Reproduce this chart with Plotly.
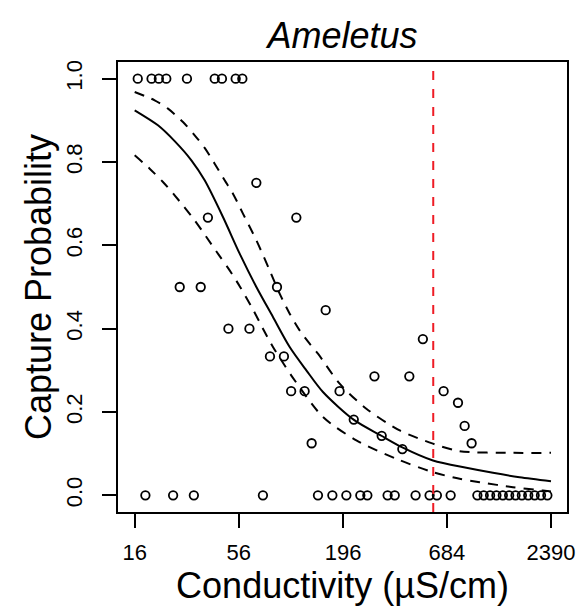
import plotly.graph_objects as go

# ---------------- data ----------------
conductivity_pts = [
    16.6, 19.6, 21.4, 23.4, 30.0, 41.9, 45.7, 53.9, 58.4,      # p = 1
    69.1,                                                       # 0.75
    38.6, 111.8,                                                # 2/3
    27.5, 35.4, 88.6,                                           # 0.5
    159.1,                                                      # 4/9
    49.4, 63.6,                                                 # 0.4
    512.0,                                                      # 3/8
    81.4, 96.3,                                                 # 1/3
    286.0, 435.0,                                               # 2/7
    105.0, 123.5, 188.0, 657.0,                                 # 0.25
    781.0,                                                      # 2/9
    223.0,                                                      # 2/11
    846.0,                                                      # 1/6
    312.0,                                                      # 1/7
    134.4, 920.0,                                               # 1/8
    400.0,                                                      # 1/9
    18.2, 25.4, 32.6, 74.8, 145.0, 172.4, 204.0, 241.3, 262.6,  # 0
    335.0, 365.0, 469.0, 555.0, 606.0, 715.0,
    986.0, 1064.0, 1149.0, 1240.0, 1339.0, 1445.0, 1560.0, 1684.0,
    1818.0, 1963.0, 2119.0, 2288.0,
]
probability_pts = (
    [1.0] * 9 + [0.75] + [2 / 3] * 2 + [0.5] * 3 + [4 / 9] + [0.4] * 2 + [3 / 8]
    + [1 / 3] * 2 + [2 / 7] * 2 + [0.25] * 4 + [2 / 9] + [2 / 11] + [1 / 6]
    + [1 / 7] + [1 / 8] * 2 + [1 / 9] + [0.0] * 27
)

# fitted curve and confidence band
fit_x = [16, 21.17, 25.88, 31.64, 37.13, 46.26, 56.55, 69.13, 84.40, 103.2,
         126.1, 154.0, 223.5, 310.8, 400.0, 578.0, 863.5, 1189.0, 1638.0, 2390.0]
fit_y = [0.924, 0.888, 0.850, 0.804, 0.756, 0.668, 0.580, 0.500, 0.428, 0.356,
         0.300, 0.248, 0.181, 0.143, 0.115, 0.0836, 0.066, 0.054, 0.0435, 0.034]

upper_x = [16, 20.35, 23.88, 28.60, 32.92, 37.13, 41.87, 47.21, 52.17, 58.83,
           69.13, 81.11, 91.47, 103.2, 116.3, 131.2, 145.0, 188.2, 259.4, 387.2,
           578.0, 796.7, 1512.0, 2390.0]
upper_y = [0.968, 0.948, 0.928, 0.896, 0.864, 0.834, 0.796, 0.756, 0.724, 0.676,
           0.612, 0.540, 0.484, 0.436, 0.396, 0.364, 0.340, 0.268, 0.208, 0.156,
           0.124, 0.106, 0.102, 0.102]

lower_x = [16, 19.16, 22.48, 25.88, 32.92, 37.90, 44.46, 50.14, 56.55, 66.36,
           74.84, 84.40, 95.18, 107.3, 154.0, 230.1, 372.2, 578.0, 796.7, 1013.0,
           1512.0, 2169.0, 2390.0]
lower_y = [0.816, 0.784, 0.752, 0.720, 0.660, 0.620, 0.574, 0.540, 0.502, 0.446,
           0.400, 0.356, 0.318, 0.282, 0.188, 0.132, 0.0876, 0.0555, 0.0396, 0.0316,
           0.0195, 0.0115, 0.0095]

threshold = 580.0
x_ticks = [16, 56, 196, 684, 2390]
y_ticks = [0.0, 0.2, 0.4, 0.6, 0.8, 1.0]
y_tick_labels = ["0.0", "0.2", "0.4", "0.6", "0.8", "1.0"]

FONT = "Liberation Sans, Arial, Helvetica, sans-serif"

fig = go.Figure()

fig.add_trace(go.Scatter(
    x=conductivity_pts, y=probability_pts, mode="markers",
    marker=dict(symbol="circle-open", size=8.5, color="black", line=dict(width=1.8, color="black")),
    hoverinfo="skip", showlegend=False,
))
fig.add_trace(go.Scatter(
    x=fit_x, y=fit_y, mode="lines", line=dict(color="black", width=2, shape="spline", smoothing=0.8),
    showlegend=False, hoverinfo="skip",
))
for xs, ys in ((upper_x, upper_y), (lower_x, lower_y)):
    fig.add_trace(go.Scatter(
        x=xs, y=ys, mode="lines",
        line=dict(color="black", width=2, dash="10px,8px", shape="spline", smoothing=0.8),
        showlegend=False, hoverinfo="skip",
    ))
fig.add_trace(go.Scatter(
    x=[threshold, threshold], y=[-0.04, 1.04], mode="lines",
    line=dict(color="#ee1c25", width=2, dash="9px,9px"),
    showlegend=False, hoverinfo="skip",
))

fig.update_layout(
    template="none",
    width=580, height=608, autosize=False,
    margin=dict(l=118, r=13, t=62, b=96),
    paper_bgcolor="white", plot_bgcolor="white",
    font=dict(family=FONT, color="black"),
    hovermode=False,
    title=dict(text="<i>Ameletus</i>", x=0.5905, xanchor="center",
               y=1 - 35 / 608, yanchor="middle", yref="container",
               font=dict(size=36, family=FONT, color="black")),
)
fig.update_xaxes(
    type="log", range=[1.117, 3.462], automargin=False,
    tickmode="array", tickvals=x_ticks, ticktext=[str(v) for v in x_ticks],
    ticks="outside", ticklen=14, tickwidth=2, tickcolor="black",
    showline=True, mirror=True, linewidth=2, linecolor="black",
    showgrid=False, zeroline=False,
    tickfont=dict(size=22, family=FONT, color="black"),
    ticklabelstandoff=6,
    title=dict(text="Conductivity (µS/cm)", font=dict(size=36, family=FONT, color="black"), standoff=2),
)
fig.update_yaxes(
    range=[-0.04, 1.04], automargin=False,
    tickmode="array", tickvals=y_ticks, ticktext=y_tick_labels, tickangle=-90,
    ticks="outside", ticklen=14, tickwidth=2, tickcolor="black",
    showline=True, mirror=True, linewidth=2, linecolor="black",
    showgrid=False, zeroline=False,
    tickfont=dict(size=22, family=FONT, color="black"),
    ticklabelstandoff=11,
    title=dict(text="Capture Probability", font=dict(size=36, family=FONT, color="black"), standoff=0),
)

fig.write_html(
    "out.html",
    config={"displayModeBar": False},
    post_script="document.body.style.margin='0';document.body.style.overflow='hidden';",
)
